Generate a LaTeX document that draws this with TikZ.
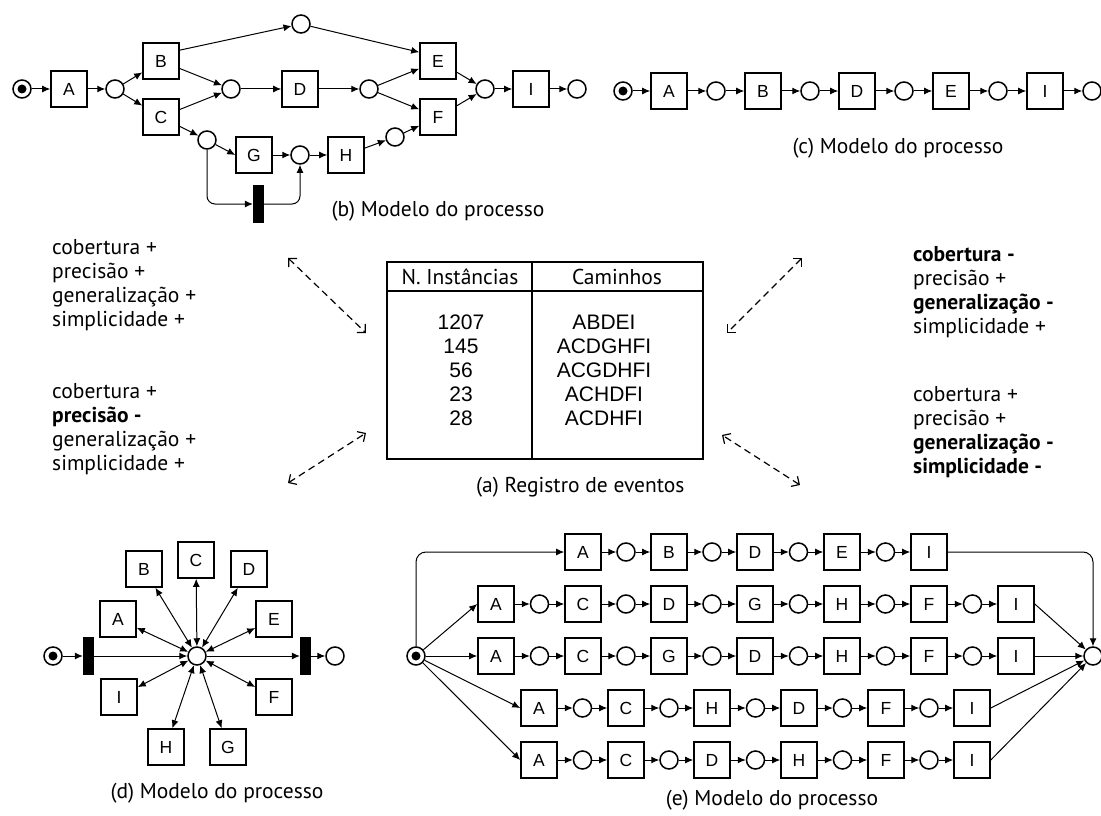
\documentclass[tikz,border=0pt]{standalone}
\usepackage{fontspec}
\setmainfont{PT Sans}
\newfontfamily\arialfont{Liberation Sans}
\usetikzlibrary{arrows.meta,calc}

\begin{document}
\begin{tikzpicture}[x=1pt,y=-1pt,
  trans/.style={draw, line width=1.6pt, minimum width=36pt, minimum height=36pt, inner sep=0pt,
    font=\arialfont\fontsize{17.5}{17.5}\selectfont},
  place/.style={circle, draw, line width=1.5pt, minimum size=18pt, inner sep=0pt},
  startplace/.style={place, path picture={\fill[black] (path picture bounding box.center) circle[radius=4.5pt];}},
  bar/.style={fill=black, draw=black, minimum width=10pt, minimum height=37pt, inner sep=0pt},
  arc/.style={-{Latex[length=8pt,width=7pt]}, line width=1pt},
  biarc/.style={{Latex[length=8pt,width=7pt]}-{Latex[length=8pt,width=7pt]}, line width=1pt},
  rel/.style={{Straight Barb[length=6pt,width=12pt,line width=1.2pt]}-{Straight Barb[length=6pt,width=12pt,line width=1.2pt]},
    line width=1.2pt, dash pattern=on 7pt off 4.5pt},
  caption/.style={font=\fontsize{21.5}{24}\selectfont, inner sep=0pt},
  measures/.style={font=\fontsize{21.5}{24}\selectfont, align=left, anchor=north west, inner sep=0pt},
  cell/.style={font=\arialfont\fontsize{21}{24}\selectfont, inner sep=0pt},
]
\fill[white] (0,0) rectangle (1101,816);
\useasboundingbox (0,0) rectangle (1101,816);

% ---------- (b) process model ----------
\node[startplace] (bS) at (22,89) {};
\node[trans] (bA) at (69,89) {A};
\node[place] (bp1) at (115,89) {};
\node[trans] (bB) at (161,61) {B};
\node[trans] (bC) at (161,117) {C};
\node[place] (bpt) at (301,24) {};
\node[place] (bpm) at (231,89) {};
\node[trans] (bD) at (300,89) {D};
\node[place] (bpd) at (369,89) {};
\node[trans] (bE) at (438,61) {E};
\node[trans] (bF) at (438,117) {F};
\node[place] (bpef) at (485,89) {};
\node[trans] (bI) at (531,89) {I};
\node[place] (bend) at (577,89) {};
\node[place] (bpc) at (207,140) {};
\node[trans] (bG) at (254,155) {G};
\node[place] (bpg) at (300,155) {};
\node[trans] (bH) at (346,155) {H};
\node[place] (bph) at (395,137) {};
\node[bar] (bT) at (258,204) {};

\draw[arc] (bS) -- (bA);
\draw[arc] (bA) -- (bp1);
\draw[arc] (bp1) -- (bB);
\draw[arc] (bp1) -- (bC);
\draw[arc] (bB.30) -- (bpt);
\draw[arc] (bB) -- (bpm);
\draw[arc] (bC) -- (bpm);
\draw[arc] (bC) -- (bpc);
\draw[arc] (bpm) -- (bD);
\draw[arc] (bD) -- (bpd);
\draw[arc] (bpt) -- (bE.155);
\draw[arc] (bpd) -- (bE);
\draw[arc] (bpd) -- (bF);
\draw[arc] (bE) -- (bpef);
\draw[arc] (bF) -- (bpef);
\draw[arc] (bpef) -- (bI);
\draw[arc] (bI) -- (bend);
\draw[arc] (bpc) -- (bG.west);
\draw[arc] (bG) -- (bpg);
\draw[arc] (bpg) -- (bH);
\draw[arc] (bH) -- (bph);
\draw[arc] (bph) -- (bF);
\draw[arc, rounded corners=8pt] (bpc.south) |- (bT.west);
\draw[arc, rounded corners=8pt] (bT.east) -| (bpg.south);
\node[caption] (bcap) at (438,211) {(b) Modelo do processo};

% ---------- (c) process model ----------
\node[startplace] (cS) at (623,91) {};
\foreach \i/\x/\l in {1/669/A,2/763/B,3/857/D,4/951/E,5/1045/I}{
  \node[trans] (ct\i) at (\x,91) {\l};
}
\draw[arc] (cS) -- (ct1);
\foreach \i in {1,...,4}{
  \pgfmathtruncatemacro{\j}{\i+1}
  \node[place] (cp\i) at ($(ct\i)!0.5!(ct\j)$) {};
  \draw[arc] (ct\i) -- (cp\i);
  \draw[arc] (cp\i) -- (ct\j);
}
\node[place] (cend) at (1092,91) {};
\draw[arc] (ct5) -- (cend);
\node[caption] (ccap) at (898,148) {(c) Modelo do processo};

% ---------- (a) event log ----------
\draw[line width=2pt] (387,262) rectangle (703,459);
\draw[line width=1.7pt] (387,291) -- (703,291);
\draw[line width=1.7pt] (532,262) -- (532,459);
\node[caption] (hN) at (460,277) {N. Instâncias};
\node[caption] (hC) at (617,277) {Caminhos};
\foreach \i/\y/\n/\p in {1/322/1207/ABDEI,2/346/145/ACDGHFI,3/370/56/ACGDHFI,4/394/23/ACHDFI,5/418/28/ACDHFI}{
  \node[cell] (n\i) at (461,\y) {\n};
  \node[cell] (w\i) at (604,\y) {\p};
}
\node[caption, anchor=west] (acap) at (476,487) {(a) Registro de eventos};

% ---------- quality dimensions ----------
\node[measures] (qb) at (52,239) {cobertura +\\precisão +\\generalização +\\simplicidade +};
\node[measures] (qd) at (52,383) {cobertura +\\\textbf{precisão -}\\generalização +\\simplicidade +};
\node[measures] (qc) at (913,246) {\textbf{cobertura -}\\precisão +\\\textbf{generalização -}\\simplicidade +};
\node[measures] (qe) at (913,386) {cobertura +\\precisão +\\\textbf{generalização -}\\\textbf{simplicidade -}};

\coordinate (r1a) at (288,258); \coordinate (r1b) at (366,333);
\coordinate (r2a) at (288,483); \coordinate (r2b) at (366,433);
\coordinate (r3a) at (802,258); \coordinate (r3b) at (727,333);
\coordinate (r4a) at (800,485); \coordinate (r4b) at (722,435);
\draw[rel] (r1a) -- (r1b);
\draw[rel] (r2a) -- (r2b);
\draw[rel] (r3a) -- (r3b);
\draw[rel] (r4a) -- (r4b);

% ---------- (d) process model ----------
\node[startplace] (dS) at (53,656) {};
\node[bar] (dT1) at (88,656) {};
\node[place] (dP) at (197,656) {};
\node[bar] (dT2) at (305,656) {};
\node[place] (dEnd) at (335,656) {};
\foreach \n/\x/\y in {A/118/619,B/144/569,C/196/560,D/249/569,E/274/619,F/274/697,G/228/747,H/166/747,I/119/697}{
  \node[trans] (d\n) at (\x,\y) {\n};
  \draw[biarc] (dP) -- (d\n);
}
\draw[arc] (dS) -- (dT1);
\draw[arc] (dT1) -- (dP);
\draw[arc] (dP) -- (dT2);
\draw[arc] (dT2) -- (dEnd);
\node[caption] (dcap) at (217,793) {(d) Modelo do processo};

% ---------- (e) process model ----------
\node[startplace] (eS) at (416,656) {};
\node[place] (eE) at (1093,656) {};
\foreach \i/\x/\l in {1/583/A,2/669/B,3/755/D,4/842/E,5/929/I}{
  \node[trans] (e1t\i) at (\x,552) {\l};
}
\foreach \i/\x/\l in {1/496/A,2/583/C,3/669/D,4/755/G,5/842/H,6/929/F,7/1016/I}{
  \node[trans] (e2t\i) at (\x,604) {\l};
}
\foreach \i/\x/\l in {1/496/A,2/583/C,3/669/G,4/755/D,5/842/H,6/929/F,7/1016/I}{
  \node[trans] (e3t\i) at (\x,656) {\l};
}
\foreach \i/\x/\l in {1/539/A,2/626/C,3/712/H,4/799/D,5/886/F,6/972/I}{
  \node[trans] (e4t\i) at (\x,708) {\l};
}
\foreach \i/\x/\l in {1/539/A,2/626/C,3/712/D,4/799/H,5/886/F,6/972/I}{
  \node[trans] (e5t\i) at (\x,760) {\l};
}
\foreach \r/\m in {1/4,2/6,3/6,4/5,5/5}{
  \foreach \i in {1,...,\m}{
    \pgfmathtruncatemacro{\j}{\i+1}
    \node[place] (e\r p\i) at ($(e\r t\i)!0.5!(e\r t\j)$) {};
    \draw[arc] (e\r t\i) -- (e\r p\i);
    \draw[arc] (e\r p\i) -- (e\r t\j);
  }
}
\draw[arc, rounded corners=10pt] (eS.north) |- (e1t1.west);
\draw[arc] (eS) -- (e2t1.west);
\draw[arc] (eS) -- (e3t1);
\draw[arc] (eS) -- (e4t1.west);
\draw[arc] (eS) -- (e5t1.west);
\draw[arc, rounded corners=10pt] (e1t5.east) -| (eE.north);
\draw[arc] (e2t7.east) -- (eE);
\draw[arc] (e3t7) -- (eE);
\draw[arc] (e4t6.east) -- (eE);
\draw[arc] (e5t6.east) -- (eE);
\node[caption] (ecap) at (772,800) {(e) Modelo do processo};
\end{tikzpicture}
\end{document}
